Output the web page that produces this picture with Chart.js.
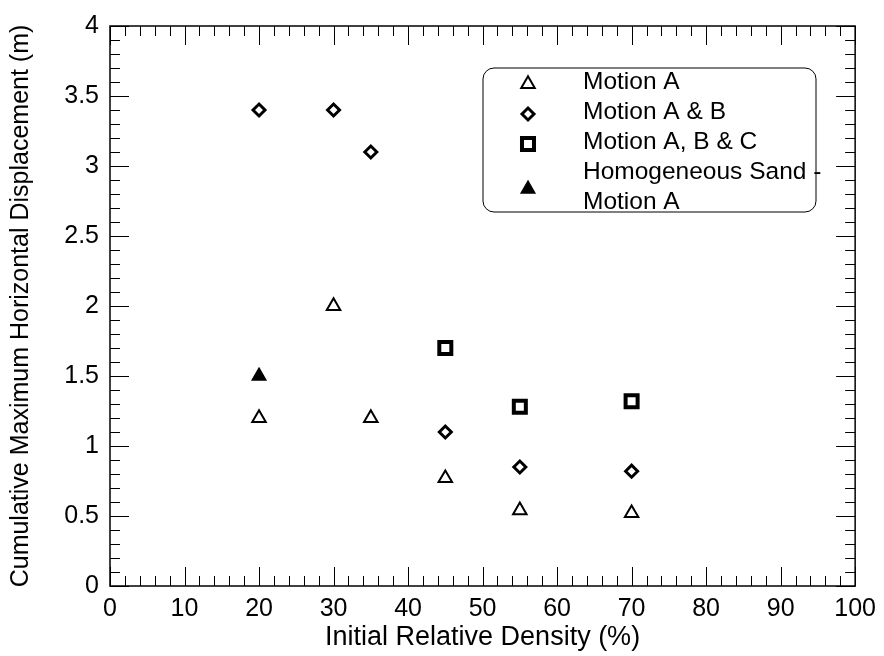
<!DOCTYPE html>
<html><head><meta charset="utf-8">
<script src="https://cdn.jsdelivr.net/npm/chart.js@4/dist/chart.umd.min.js"></script>
<style>html,body{margin:0;padding:0;background:#fff}#wrap{width:884px;height:656px}</style>
</head><body><div id="wrap"><canvas id="c" width="884" height="656"></canvas></div>
<script>
const seriesLabels = ['Motion A', 'Motion A & B', 'Motion A, B & C', ['Homogeneous Sand -', 'Motion A']];
const motionA_x = [20, 30, 35, 45, 55, 70];
const motionA_y = [1.2, 2.0, 1.2, 0.77, 0.54, 0.52];
const motionAB_x = [20, 30, 35, 45, 55, 70];
const motionAB_y = [3.4, 3.4, 3.1, 1.1, 0.85, 0.82];
const motionABC_x = [45, 55, 70];
const motionABC_y = [1.7, 1.28, 1.32];
const homog_x = [20];
const homog_y = [1.5];
const xTicks = [0, 10, 20, 30, 40, 50, 60, 70, 80, 90, 100];
const yTicks = [0, 0.5, 1, 1.5, 2, 2.5, 3, 3.5, 4];

const FONT = "'Liberation Sans', Arial, sans-serif";
const pts = (xs, ys) => xs.map((x, i) => ({x: x, y: ys[i]}));

const styles = [
  {pointStyle: 'triangle', radius: 7.8, borderWidth: 2, backgroundColor: '#fff'},
  {pointStyle: 'rectRot', radius: 6, borderWidth: 3, backgroundColor: '#fff'},
  {pointStyle: 'rect', radius: 8.5, borderWidth: 4, backgroundColor: '#fff'},
  {pointStyle: 'triangle', radius: 7.8, borderWidth: 1.5, backgroundColor: '#000'}
];
const dataSets = [pts(motionA_x, motionA_y), pts(motionAB_x, motionAB_y), pts(motionABC_x, motionABC_y), pts(homog_x, homog_y)];

const datasets = dataSets.map((d, i) => ({
  label: seriesLabels[i],
  data: d,
  showLine: false,
  pointStyle: styles[i].pointStyle,
  pointRadius: styles[i].radius,
  pointHoverRadius: styles[i].radius,
  pointBorderWidth: styles[i].borderWidth,
  pointBorderColor: '#000',
  pointBackgroundColor: styles[i].backgroundColor,
  borderColor: '#000',
  backgroundColor: styles[i].backgroundColor
}));

const framePlugin = {
  id: 'frame',
  afterDatasetsDraw(chart) {
    const ctx = chart.ctx, a = chart.chartArea;
    const xs = chart.scales.x, ys = chart.scales.y;
    ctx.save();
    ctx.strokeStyle = '#000';
    ctx.lineWidth = 1;
    ctx.beginPath();
    for (let v = 0; v <= 100.001; v += 2) {
      const major = Math.abs(v % 10) < 1e-6;
      const L = major ? 19 : 10;
      const px = Math.round(xs.getPixelForValue(v)) + 0.5;
      ctx.moveTo(px, a.bottom); ctx.lineTo(px, a.bottom - L);
      ctx.moveTo(px, a.top); ctx.lineTo(px, a.top + L);
    }
    for (let k = 0; k <= 40; k++) {
      const v = k / 10;
      const major = k % 5 === 0;
      const L = major ? 19 : 10;
      const py = Math.round(ys.getPixelForValue(v)) + 0.5;
      ctx.moveTo(a.left, py); ctx.lineTo(a.left + L, py);
      ctx.moveTo(a.right, py); ctx.lineTo(a.right - L, py);
    }
    ctx.stroke();
    ctx.lineWidth = 1.5;
    ctx.strokeRect(a.left, a.top, a.right - a.left, a.bottom - a.top);
    ctx.restore();
  },
  afterDraw(chart) {
    const ctx = chart.ctx;
    ctx.save();
    const bx = 483, by = 68, bw = 333, bh = 144, r = 11;
    ctx.fillStyle = '#fff';
    ctx.strokeStyle = '#000';
    ctx.lineWidth = 1;
    ctx.beginPath();
    ctx.moveTo(bx + r, by);
    ctx.arcTo(bx + bw, by, bx + bw, by + bh, r);
    ctx.arcTo(bx + bw, by + bh, bx, by + bh, r);
    ctx.arcTo(bx, by + bh, bx, by, r);
    ctx.arcTo(bx, by, bx + bw, by, r);
    ctx.closePath();
    ctx.fill();
    ctx.stroke();
    const rowsY = [82, 112, 142, 172];
    const mx = 528, tx = 583;
    ctx.font = '24.5px ' + FONT;
    ctx.textBaseline = 'middle';
    ctx.textAlign = 'left';
    chart.data.datasets.forEach((ds, i) => {
      const lines = Array.isArray(ds.label) ? ds.label : [ds.label];
      const ty = rowsY[i];
      ctx.fillStyle = '#000';
      lines.forEach((ln, j) => ctx.fillText(ln, tx, ty + j * 30));
      const my = ty + (lines.length - 1) * 15 + 2;
      ctx.strokeStyle = '#000';
      ctx.fillStyle = ds.pointBackgroundColor;
      ctx.lineWidth = ds.pointBorderWidth;
      const opts = {pointStyle: ds.pointStyle, radius: ds.pointRadius, rotation: 0, borderWidth: ds.pointBorderWidth};
      if (Chart.helpers && Chart.helpers.drawPoint) {
        Chart.helpers.drawPoint(ctx, opts, mx, my);
      }
    });
    ctx.restore();
  }
};

new Chart(document.getElementById('c'), {
  type: 'scatter',
  data: {datasets: datasets},
  options: {
    responsive: false,
    animation: false,
    devicePixelRatio: 1,
    layout: {padding: {left: 0, top: 23, right: 24, bottom: 0}},
    plugins: {legend: {display: false}, tooltip: {enabled: false}},
    scales: {
      x: {
        type: 'linear', min: 0, max: 100,
        afterFit(s) { s.height = 70; },
        afterBuildTicks(s) { s.ticks = xTicks.map(v => ({value: v})); },
        grid: {display: false, drawTicks: false},
        border: {display: false},
        ticks: {color: '#000', padding: 8, font: {family: FONT, size: 25}, maxRotation: 0, callback: v => String(v)},
        title: {display: true, text: 'Initial Relative Density (%)', color: '#000', font: {family: FONT, size: 27}, padding: {top: 0, bottom: 2}}
      },
      y: {
        type: 'linear', min: 0, max: 4,
        afterFit(s) { s.width = 110; },
        afterBuildTicks(s) { s.ticks = yTicks.map(v => ({value: v})); },
        grid: {display: false, drawTicks: false},
        border: {display: false},
        ticks: {color: '#000', padding: 11, font: {family: FONT, size: 25}, callback: v => String(v)},
        title: {display: true, text: 'Cumulative Maximum Horizontal Displacement (m)', color: '#000', font: {family: FONT, size: 25}, padding: {top: 6, bottom: 0}}
      }
    }
  },
  plugins: [framePlugin]
});
</script>
</body></html>
